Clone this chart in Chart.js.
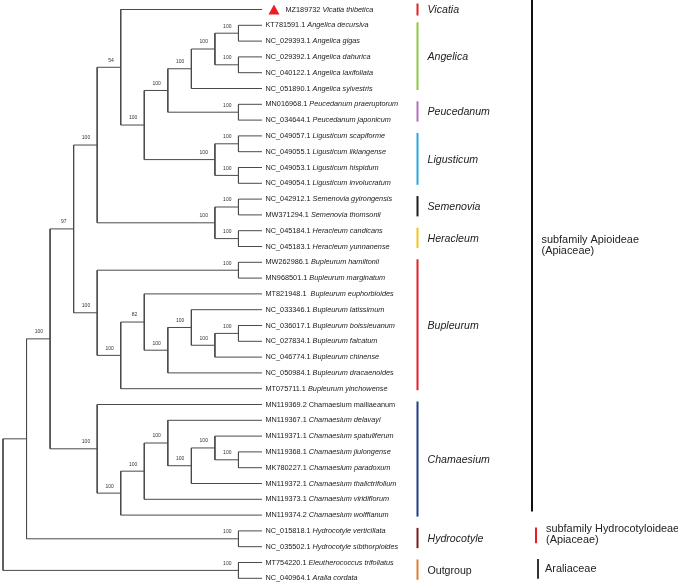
<!DOCTYPE html>
<html>
<head>
<meta charset="utf-8">
<script src="https://cdn.jsdelivr.net/npm/chart.js@4.4.1/dist/chart.umd.min.js"></script>
<style>
  html, body { margin: 0; padding: 0; background: #fff; }
  #tree { display: block; }
</style>
</head>
<body>
<canvas id="tree" width="678" height="583"></canvas>
<script>
// tips, top to bottom
const tipIds = ["MZ189732", "KT781591.1", "NC_029393.1", "NC_029392.1", "NC_040122.1", "NC_051890.1",
  "MN016968.1", "NC_034644.1", "NC_049057.1", "NC_049055.1", "NC_049053.1", "NC_049054.1",
  "NC_042912.1", "MW371294.1", "NC_045184.1", "NC_045183.1", "MW262986.1", "MN968501.1",
  "MT821948.1 ", "NC_033346.1", "NC_036017.1", "NC_027834.1", "NC_046774.1", "NC_050984.1",
  "MT075711.1", "MN119369.2", "MN119367.1", "MN119371.1", "MN119368.1", "MK780227.1",
  "MN119372.1", "MN119373.1", "MN119374.2", "NC_015818.1", "NC_035502.1", "MT754220.1", "NC_040964.1"];
const tipNames = ["Vicatia thibetica", "Angelica decursiva", "Angelica gigas", "Angelica dahurica",
  "Angelica laxifoliata", "Angelica sylvestris", "Peucedanum praeruptorum", "Peucedanum japonicum",
  "Ligusticum scapiforme", "Ligusticum likiangense", "Ligusticum hispidum", "Ligusticum involucratum",
  "Semenovia gyirongensis", "Semenovia thomsonii", "Heracleum candicans", "Heracleum yunnanense",
  "Bupleurum hamiltonii", "Bupleurum marginatum", "Bupleurum euphorbioides", "Bupleurum latissimum",
  "Bupleurum boissieuanum", "Bupleurum falcatum", "Bupleurum chinense", "Bupleurum dracaenoides",
  "Bupleurum yinchowense", "Chamaesium mailiaeanum", "Chamaesium delavayi", "Chamaesium spatuliferum",
  "Chamaesium jiulongense", "Chamaesium paradoxum", "Chamaesium thalictrifolium", "Chamaesium viridiflorum",
  "Chamaesium wolffianum", "Hydrocotyle verticillata", "Hydrocotyle sibthorpioides",
  "Eleutherococcus trifoliatus", "Aralia cordata"];
const uprightTips = [25];
const markedTip = 0;
const tipLevel = 11;

// internal nodes (numbers = tip index, strings = node id)
const nodeIds = ["root", "apiaceae", "apioideae", "n97", "n4a", "n54", "n6a", "angPeu", "ang5", "ang4",
  "angA", "angB", "peu", "lig", "ligA", "ligB", "semHer", "sem", "her",
  "bup", "bupHam", "bup5", "bup82", "bup7", "bup8", "bup9", "bupPair",
  "cham", "cham5", "cham6", "cham7", "cham8", "cham9", "chamPair", "hyd", "out"];
const nodeChildren = [["apiaceae", "out"], ["apioideae", "hyd"], ["n97", "cham"], ["n4a", "bup"],
  ["n54", "semHer"], [0, "n6a"], ["angPeu", "lig"], ["ang5", "peu"], ["ang4", 5], ["angA", "angB"],
  [1, 2], [3, 4], [6, 7], ["ligA", "ligB"], [8, 9], [10, 11], ["sem", "her"], [12, 13], [14, 15],
  ["bupHam", "bup5"], [16, 17], ["bup82", 24], [18, "bup7"], ["bup8", 23], [19, "bup9"], ["bupPair", 22], [20, 21],
  [25, "cham5"], ["cham6", 32], ["cham7", 31], [26, "cham8"], ["cham9", 30], [27, "chamPair"], [28, 29],
  [33, 34], [35, 36]];
const nodeLevels = [0, 1, 2, 3, 4, 5, 6, 7, 8, 9, 10, 10, 10, 9, 10, 10, 9, 10, 10,
  4, 10, 5, 6, 7, 8, 9, 10, 4, 5, 6, 7, 8, 9, 10, 10, 10];
const nodeSupport = ["", "", "100", "97", "100", "54", "100", "100", "100", "100", "100", "100", "100",
  "100", "100", "100", "100", "100", "100", "100", "100", "100", "82", "100", "100", "100", "100",
  "100", "100", "100", "100", "100", "100", "100", "100", "100"];

// clade bars
const cladeNames = ["Vicatia", "Angelica", "Peucedanum", "Ligusticum", "Semenovia", "Heracleum",
  "Bupleurum", "Chamaesium", "Hydrocotyle", "Outgroup"];
const cladeFirst = [0, 1, 6, 8, 12, 14, 16, 25, 33, 35];
const cladeLast = [0, 5, 7, 11, 13, 15, 24, 32, 34, 36];
const cladeItalic = [true, true, true, true, true, true, true, true, true, false];
const cladeColors = ["#e31e24", "#8dc63f", "#b36fc1", "#29a8e0", "#1a1a1a", "#f7c21b",
  "#e31e24", "#1f3b86", "#7b1a1a", "#e37a2c"];

// family / subfamily bars
const rankLabels = [["subfamily Apioideae", "(Apiaceae)"], ["subfamily Hydrocotyloideae", "(Apiaceae)"], ["Araliaceae"]];
const rankFirst = [0, 33, 35];
const rankLast = [32, 34, 36];
const rankColors = ["#111111", "#e31e24", "#333333"];

// cladogram layout: node y = middle of its outer children
const nodeIndex = {};
nodeIds.forEach(function (id, i) { nodeIndex[id] = i; });
const posCache = {};
function pos(ref) {
  if (typeof ref === "number") return { x: tipLevel, y: ref };
  if (posCache[ref]) return posCache[ref];
  const i = nodeIndex[ref];
  const kids = nodeChildren[i].map(pos);
  const p = { x: nodeLevels[i], y: (kids[0].y + kids[kids.length - 1].y) / 2 };
  posCache[ref] = p;
  return p;
}

const datasets = nodeIds.map(function (id, i) {
  const p = pos(id);
  const a = pos(nodeChildren[i][0]);
  const b = pos(nodeChildren[i][1]);
  return {
    data: [{ x: a.x, y: a.y }, { x: p.x, y: a.y }, { x: p.x, y: b.y }, { x: b.x, y: b.y }],
    showLine: true,
    borderColor: "#4a4a4a",
    borderWidth: 1,
    pointRadius: 0,
    tension: 0,
    clip: false,
  };
});

const FONT = "'Liberation Sans', Arial, sans-serif";

const labelsPlugin = {
  id: "treeLabels",
  afterDraw(chart) {
    const ctx = chart.ctx;
    const xs = chart.scales.x;
    const ys = chart.scales.y;
    const tipX = xs.getPixelForValue(tipLevel);
    ctx.save();
    ctx.textBaseline = "middle";

    // tip labels
    for (let i = 0; i < tipIds.length; i++) {
      const y = ys.getPixelForValue(i);
      let x = tipX + 3.5;
      if (i === markedTip) {
        ctx.fillStyle = "#ee1c25";
        ctx.beginPath();
        ctx.moveTo(tipX + 12, y - 5);
        ctx.lineTo(tipX + 17.5, y + 5);
        ctx.lineTo(tipX + 6.5, y + 5);
        ctx.closePath();
        ctx.fill();
        x = tipX + 23.5;
      }
      ctx.fillStyle = "#1a1a1a";
      ctx.textAlign = "left";
      ctx.font = "7.3px " + FONT;
      const idText = tipIds[i] + " ";
      ctx.fillText(idText, x, y);
      const w = ctx.measureText(idText).width;
      ctx.font = (uprightTips.includes(i) ? "" : "italic ") + "7.3px " + FONT;
      ctx.fillText(tipNames[i], x + w, y);
    }

    // bootstrap values
    ctx.font = "5px " + FONT;
    ctx.fillStyle = "#333";
    ctx.textAlign = "right";
    nodeIds.forEach(function (id, i) {
      if (!nodeSupport[i]) return;
      const p = pos(id);
      ctx.fillText(nodeSupport[i], xs.getPixelForValue(p.x) - 7, ys.getPixelForValue(p.y) - 7);
    });

    // clade bars
    ctx.textAlign = "left";
    ctx.lineWidth = 2;
    for (let c = 0; c < cladeNames.length; c++) {
      let top = ys.getPixelForValue(cladeFirst[c]) - 3;
      let bottom = ys.getPixelForValue(cladeLast[c]) + 1.5;
      if (cladeFirst[c] === cladeLast[c]) {
        top = ys.getPixelForValue(cladeFirst[c]) - 6;
        bottom = ys.getPixelForValue(cladeFirst[c]) + 6;
      }
      ctx.strokeStyle = cladeColors[c];
      ctx.beginPath();
      ctx.moveTo(417.5, top);
      ctx.lineTo(417.5, bottom);
      ctx.stroke();
      ctx.fillStyle = "#222";
      ctx.font = (cladeItalic[c] ? "italic " : "") + "10.6px " + FONT;
      ctx.fillText(cladeNames[c], 427.5, (top + bottom) / 2 + 1);
    }

    // rank bars
    const barX = [532, 536, 538];
    const textX = [541.5, 546, 545];
    const nudge = [-10, -1, 0];
    ctx.font = "10.9px " + FONT;
    for (let r = 0; r < rankLabels.length; r++) {
      const top = rankFirst[r] === 0 ? 0 : ys.getPixelForValue(rankFirst[r]) - 3.5;
      const bottom = ys.getPixelForValue(rankLast[r]) - (r === 2 ? -0.5 : 3.5);
      ctx.strokeStyle = rankColors[r];
      ctx.beginPath();
      ctx.moveTo(barX[r], top);
      ctx.lineTo(barX[r], bottom);
      ctx.stroke();
      ctx.fillStyle = "#222";
      const lines = rankLabels[r];
      const mid = (top + bottom) / 2 + nudge[r];
      lines.forEach(function (t, k) {
        ctx.fillText(t, textX[r], mid + (k - (lines.length - 1) / 2) * 10.7);
      });
    }
    ctx.restore();
  },
};

new Chart(document.getElementById("tree"), {
  type: "scatter",
  data: { datasets: datasets },
  options: {
    responsive: false,
    animation: false,
    devicePixelRatio: 1,
    layout: { padding: { left: 3, right: 416, top: 9.5, bottom: 4.7 } },
    scales: {
      x: { type: "linear", min: 0, max: tipLevel, display: false },
      y: { type: "linear", min: 0, max: tipIds.length - 1, reverse: true, display: false },
    },
    plugins: { legend: { display: false }, tooltip: { enabled: false } },
  },
  plugins: [labelsPlugin],
});
</script>
</body>
</html>
